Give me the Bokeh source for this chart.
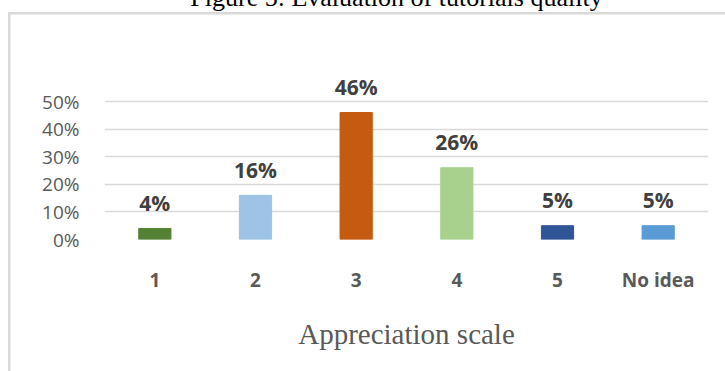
from bokeh.plotting import figure
from bokeh.core.properties import value
from bokeh.models import (FactorRange, Range1d, FixedTicker, NumeralTickFormatter,
                          ColumnDataSource, LabelSet, Label)
from bokeh.embed import file_html
from bokeh.resources import INLINE

# Survey answers on the appreciation scale
categories = ["1", "2", "3", "4", "5", "No idea"]
shares = [0.04, 0.16, 0.46, 0.26, 0.05, 0.05]
share_labels = ["4%", "16%", "46%", "26%", "5%", "5%"]
bar_colors = ["#548235", "#9DC3E6", "#C55A11", "#A9D18E", "#2F5597", "#5B9BD5"]
y_ticks = [0.0, 0.1, 0.2, 0.3, 0.4, 0.5]

title_text = "Figure 5: Evaluation of tutorials quality"
x_title = "Appreciation scale"

source = ColumnDataSource(dict(cat=categories, share=shares, label=share_labels, color=bar_colors))

p = figure(width=725, height=371,
           x_range=FactorRange(*categories),
           y_range=Range1d(0, 0.6486),
           output_backend="svg", toolbar_location=None,
           min_border_left=104, min_border_right=17,
           min_border_top=60, min_border_bottom=132)
# transparent canvas so the chart-area border painted on the host element shows through
p.background_fill_color = None
p.border_fill_color = None
p.outline_line_color = None
p.styles = {
    "background-color": "white",
    "background-image": "linear-gradient(#d9d9d9, #d9d9d9), linear-gradient(#d9d9d9, #d9d9d9)",
    "background-position": "8px 12px, 8px 12px",
    "background-size": "2.5px 100%, 100% 2.5px",
    "background-repeat": "no-repeat",
}

p.vbar(x="cat", top="share", width=0.32, color="color", source=source)

# data labels above each bar
p.add_layout(LabelSet(x="cat", y="share", text="label", source=source,
                      y_offset=17.5, text_align="center", text_baseline="alphabetic",
                      text_font=value("Open Sans"), text_font_style="bold",
                      text_font_size="21px", text_color="#404040"))

# grid
p.xgrid.visible = False
p.ygrid.grid_line_color = "#d9d9d9"
p.ygrid.grid_line_width = 1.5

# y axis
p.yaxis.ticker = FixedTicker(ticks=y_ticks)
p.yaxis.formatter = NumeralTickFormatter(format="0%")
p.yaxis.axis_line_color = None
p.yaxis.major_tick_line_color = None
p.yaxis.minor_tick_line_color = None
p.yaxis.major_tick_out = 0
p.yaxis.major_label_standoff = 25
p.yaxis.major_label_text_font = "Open Sans"
p.yaxis.major_label_text_font_size = "19px"
p.yaxis.major_label_text_color = "#595959"

# x axis
p.xaxis.axis_line_color = None
p.xaxis.major_tick_line_color = None
p.xaxis.minor_tick_line_color = None
p.xaxis.major_tick_out = 0
p.xaxis.major_label_standoff = 27
p.xaxis.major_label_text_font = "Open Sans"
p.xaxis.major_label_text_font_style = "bold"
p.xaxis.major_label_text_font_size = "19px"
p.xaxis.major_label_text_color = "#595959"
p.xaxis.axis_label = x_title
p.xaxis.axis_label_text_font = "Liberation Serif"
p.xaxis.axis_label_text_font_style = "normal"
p.xaxis.axis_label_text_font_size = "29px"
p.xaxis.axis_label_text_color = "#595959"
p.xaxis.axis_label_standoff = 22

# figure caption above the chart area (side panel, so it is not clipped to the frame)
p.add_layout(Label(x=396, y=-3.5, x_units="canvas", y_units="canvas", text=title_text,
                   text_align="center", text_baseline="alphabetic",
                   text_font="Liberation Serif", text_font_size="26px", text_color="black"), "above")

open("out.html", "w").write(file_html(p, INLINE))
